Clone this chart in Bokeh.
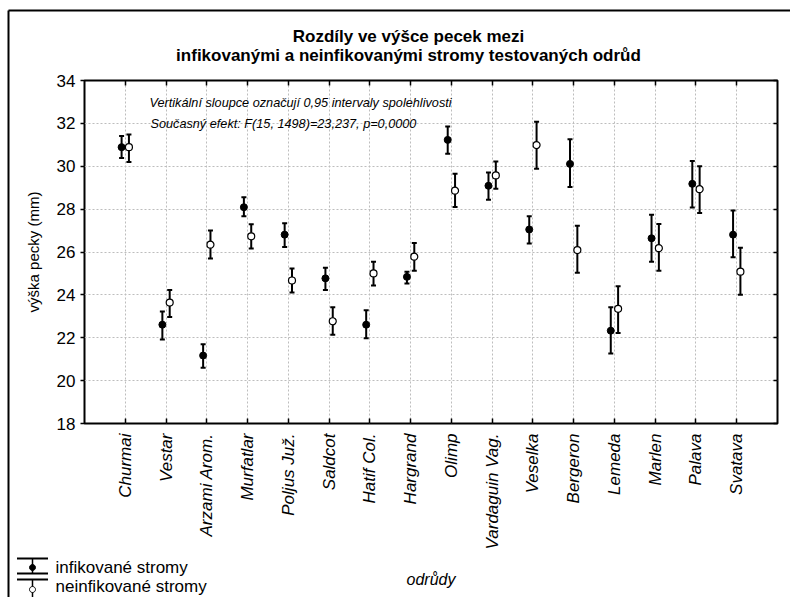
import math
import numpy as np
from bokeh.plotting import figure
from bokeh.models import (Range1d, FixedTicker, LinearAxis, Whisker, TeeHead,
                          ColumnDataSource, Label)
from bokeh.core.properties import value
from bokeh.embed import file_html
from bokeh.resources import INLINE

# Varieties (x categories)
varieties = ["Churmai", "Vestar", "Arzami Arom.", "Murfatlar", "Poljus Juž.", "Saldcot",
             "Hatif Col.", "Hargrand", "Olimp", "Vardaguin Vag.", "Veselka", "Bergeron",
             "Lemeda", "Marlen", "Palava", "Svatava"]

# Infected trees: mean stone height and 95 % confidence limits (mm)
inf_mean = [30.89, 22.61, 21.17, 28.09, 26.81, 24.77, 22.61, 24.84, 31.23, 29.09, 27.05, 30.11,
            22.33, 26.64, 29.18, 26.81]
inf_low = [30.39, 21.92, 20.60, 27.67, 26.23, 24.23, 21.98, 24.53, 30.58, 28.44, 26.40, 29.03,
           21.26, 25.54, 28.07, 25.75]
inf_high = [31.41, 23.23, 21.70, 28.55, 27.34, 25.27, 23.28, 25.08, 31.85, 29.71, 27.67, 31.26,
            23.42, 27.74, 30.25, 27.94]

# Non-infected trees
non_mean = [30.89, 23.64, 26.34, 26.73, 24.67, 22.77, 25.00, 25.78, 28.86, 29.57, 30.99, 26.09,
            23.35, 26.18, 28.93, 25.08]
non_low = [30.20, 22.97, 25.70, 26.16, 24.11, 22.14, 24.44, 25.13, 28.10, 28.95, 29.88, 25.03,
           22.22, 25.13, 27.82, 24.01]
non_high = [31.48, 24.23, 27.00, 27.30, 25.23, 23.42, 25.55, 26.42, 29.65, 30.22, 32.08, 27.22,
            24.40, 27.31, 30.00, 26.20]

y_ticks = [18, 20, 22, 24, 26, 28, 30, 32, 34]
legend_labels = ["infikované stromy", "neinfikované stromy"]
title_lines = ["Rozdíly ve výšce pecek mezi",
               "infikovanými a neinfikovanými stromy testovaných odrůd"]
notes = ["Vertikální sloupce označují 0,95 intervaly spolehlivosti",
         "Současný efekt: F(15, 1498)=23,237, p=0,0000"]

FONT = "Liberation Sans"
W, H = 790, 597
FL, FR, FT, FB = 84, 777, 80, 423      # frame edges in canvas pixels
X0, X1, Y0, Y1 = -1, 16, 18, 34        # data ranges


def dx(cx):
    """canvas pixel x -> data x (for decorations outside the frame)"""
    return X0 + (cx - FL) * (X1 - X0) / (FR - FL)


def dy(cy):
    return Y0 + (FB - cy) * (Y1 - Y0) / (FB - FT)


p = figure(width=W, height=H, output_backend="svg", toolbar_location=None,
           x_range=Range1d(X0, X1), y_range=Range1d(Y0, Y1),
           min_border_left=FL, min_border_right=W - FR, min_border_top=FT,
           min_border_bottom=H - FB)
p.background_fill_color = "white"
p.border_fill_color = "white"
p.outline_line_color = "black"
p.outline_line_width = 2

xt = FixedTicker(ticks=list(range(len(varieties))))
yt = FixedTicker(ticks=y_ticks)

# bottom axis with rotated variety names
xa = p.xaxis[0]
xa.ticker = xt
xa.major_label_overrides = {i: n for i, n in enumerate(varieties)}
xa.major_label_orientation = math.pi / 2
xa.major_label_text_font = FONT
xa.major_label_text_font_style = "italic"
xa.major_label_text_font_size = "17px"
xa.major_label_text_color = "black"
xa.major_label_standoff = 10
xa.major_tick_in = 5
xa.major_tick_out = 0
xa.major_tick_line_width = 1.5
xa.major_tick_line_color = "black"
xa.minor_tick_line_color = None
xa.axis_line_color = None
xa.axis_label = "odrůdy"
xa.axis_label_text_font = FONT
xa.axis_label_text_font_style = "italic"
xa.axis_label_text_font_size = "16px"
xa.axis_label_text_color = "black"
xa.axis_label_standoff = 19

ya = p.yaxis[0]
ya.ticker = yt
ya.major_label_text_font = FONT
ya.major_label_text_font_size = "17px"
ya.major_label_text_color = "black"
ya.major_label_standoff = 5
ya.major_tick_in = 0
ya.major_tick_out = 4
ya.major_tick_line_width = 1.5
ya.minor_tick_line_color = None
ya.axis_line_color = None
ya.axis_label = "výška pecky (mm)"
ya.axis_label_text_font = FONT
ya.axis_label_text_font_style = "normal"
ya.axis_label_text_font_size = "15px"
ya.axis_label_text_color = "black"
ya.axis_label_standoff = 12

# tick marks on the top and right edges of the frame
top = LinearAxis(ticker=xt, major_label_overrides={i: "" for i in range(len(varieties))},
                 major_label_text_font_size="0px", major_label_standoff=0,
                 major_tick_in=5, major_tick_out=0, major_tick_line_width=1.5,
                 minor_tick_line_color=None, axis_line_color=None)
p.add_layout(top, "above")
right = LinearAxis(ticker=yt, major_label_overrides={t: "" for t in y_ticks},
                   major_label_text_font_size="0px", major_label_standoff=0,
                   major_tick_in=4, major_tick_out=0, major_tick_line_width=1.5,
                   minor_tick_line_color=None, axis_line_color=None)
p.add_layout(right, "right")

p.xgrid.ticker = xt
p.ygrid.ticker = yt
for g in (p.xgrid, p.ygrid):
    g.grid_line_color = "#bdbdbd"
    g.grid_line_dash = "2 2"
    g.grid_line_width = 1

off = 0.09
src_inf = ColumnDataSource(dict(x=[i - off for i in range(len(varieties))],
                                mean=inf_mean, low=inf_low, high=inf_high))
src_non = ColumnDataSource(dict(x=[i + off for i in range(len(varieties))],
                                mean=non_mean, low=non_low, high=non_high))


def tee(size):
    return TeeHead(size=size, line_width=2, line_color="black")


for src in (src_inf, src_non):
    p.add_layout(Whisker(source=src, base="x", lower="low", upper="high", dimension="height",
                         line_color="black", line_width=2, level="underlay",
                         lower_head=tee(5), upper_head=tee(5)))

p.scatter("x", "mean", source=src_inf, size=7, marker="circle",
          fill_color="black", line_color="black", line_width=1)
p.scatter("x", "mean", source=src_non, size=7, marker="circle",
          fill_color="white", line_color="black", line_width=1.2)

# notes inside the frame
for txt, cx, cy in zip(notes, [149, 150], [102, 123]):
    p.add_layout(Label(x=cx - FL, y=FB - cy, x_units="screen", y_units="screen", text=txt,
                       text_align="left", text_baseline="middle", text_font=FONT,
                       text_font_style="italic", text_font_size="12.7px", text_color="black"))

# two-line title, centred over the whole graphic
p.text(x=[dx(408), dx(408)], y=[dy(36), dy(55)], text=title_lines,
       text_font=value(FONT), text_font_style="bold", text_font_size="17px",
       text_color="black", text_align="center", text_baseline="middle", level="overlay")

# legend in the lower-left corner: error-bar keys with captions
key_x = dx(32)
cap_half = 15.5 * (X1 - X0) / (FR - FL)
key_top = [dy(558), dy(579)]
key_bot = [dy(573), dy(602)]
p.segment(x0=[key_x, key_x], y0=key_top, x1=[key_x, key_x], y1=key_bot,
          line_color="black", line_width=1.5, level="overlay")
p.segment(x0=[key_x - cap_half] * 4, y0=key_top + key_bot,
          x1=[key_x + cap_half] * 4, y1=key_top + key_bot,
          line_color="black", line_width=2, level="overlay")
ang = np.linspace(0, 2 * np.pi, 24, endpoint=False)
for cy, fill in [(567, "black"), (589, "white")]:
    p.patch(x=[dx(32 + 3 * math.cos(a)) for a in ang], y=[dy(cy + 3 * math.sin(a)) for a in ang],
            fill_color=fill, line_color="black", line_width=1, level="overlay")
p.text(x=[dx(55), dx(55)], y=[dy(567), dy(586)], text=legend_labels,
       text_font=value(FONT), text_font_size="17px", text_color="black",
       text_align="left", text_baseline="middle", level="overlay")

# outer frame around the whole graphic
p.segment(x0=[dx(8), dx(8)], y0=[dy(10), dy(10)], x1=[dx(W + 20), dx(8)], y1=[dy(10), dy(H + 20)],
          line_color="black", line_width=2, level="overlay")

open("out.html", "w").write(file_html(p, INLINE))
